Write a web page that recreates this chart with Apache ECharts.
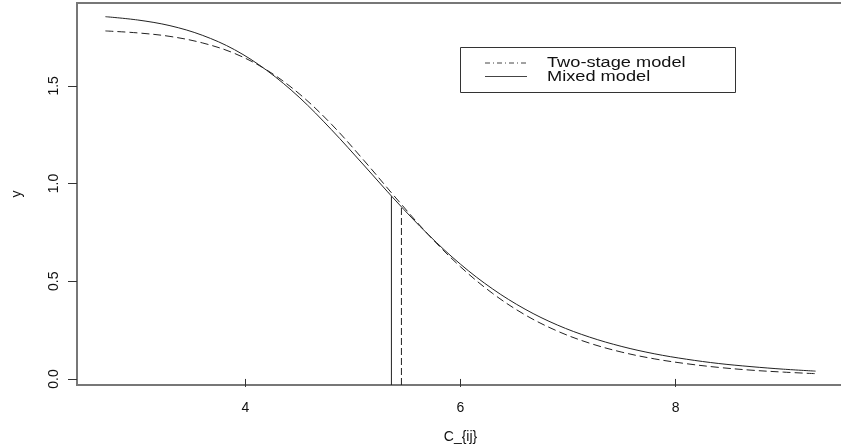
<!DOCTYPE html>
<html>
<head>
<meta charset="utf-8">
<script src="https://cdn.jsdelivr.net/npm/echarts@6/dist/echarts.min.js"></script>
<style>
html,body{margin:0;padding:0;background:#fff;}
#chart{width:841px;height:444px;}
</style>
</head>
<body>
<div id="chart"></div>
<script>
// ---- data ----
const concentration = [2.7, 3.0, 3.3, 3.6, 3.9, 4.2, 4.5, 4.8, 5.1, 5.4, 5.7, 6.0, 6.3, 6.6, 6.9, 7.2, 7.5, 7.8, 8.1, 8.4, 8.7, 9.0, 9.3];
const twoStageModel = [1.781, 1.771, 1.753, 1.720, 1.666, 1.581, 1.460, 1.304, 1.120, 0.926, 0.739, 0.574, 0.437, 0.328, 0.245, 0.183, 0.137, 0.103, 0.078, 0.059, 0.045, 0.035, 0.027];
const mixedModel    = [1.854, 1.837, 1.808, 1.759, 1.685, 1.579, 1.442, 1.276, 1.095, 0.911, 0.739, 0.587, 0.460, 0.357, 0.276, 0.214, 0.166, 0.129, 0.101, 0.079, 0.063, 0.050, 0.040];
const mixedCut = [5.358, 0.935];     // vertical solid line (x, top y)
const twoStageCut = [5.451, 0.88];   // vertical dashed line (x, top y)
const xTicks = [4, 6, 8];
const yTicks = [0, 0.5, 1, 1.5];
const xRange = [2.436, 9.564];
const yRange = [-0.031, 1.924];
const legendNames = ['Two-stage model', 'Mixed model'];
const xTitle = 'C_{ij}';
const yTitle = 'y';

const chart = echarts.init(document.getElementById('chart'), null, {renderer: 'canvas'});
const FONT = '"Liberation Sans", Arial, sans-serif';
const lineCol = '#222';

const option = {
  animation: false,
  backgroundColor: '#fff',
  grid: {left: 77, top: 3, width: 767, height: 382, outerBoundsMode: 'none', containLabel: false,
    show: true, borderColor: '#777', borderWidth: 2, backgroundColor: 'transparent'},
  xAxis: {
    type: 'value', min: xRange[0], max: xRange[1],
    axisLine: {show: false},
    splitLine: {show: false},
    axisTick: {show: true, length: 8, customValues: xTicks, lineStyle: {color: '#333', width: 1}},
    axisLabel: {customValues: xTicks, margin: 16, fontSize: 14, color: '#111', fontFamily: FONT, formatter: v => String(v)},
    name: xTitle, nameLocation: 'middle', nameGap: 45,
    nameTextStyle: {fontSize: 14, color: '#111', fontFamily: FONT}
  },
  yAxis: {
    type: 'value', min: yRange[0], max: yRange[1],
    axisLine: {show: false},
    splitLine: {show: false},
    axisTick: {show: true, length: 9, customValues: yTicks, lineStyle: {color: '#333', width: 1}},
    axisLabel: {customValues: yTicks, rotate: 90, margin: 16, fontSize: 14, color: '#111', fontFamily: FONT,
      formatter: v => v.toFixed(1)},
    name: yTitle, nameLocation: 'middle', nameGap: 53,
    nameTextStyle: {fontSize: 14, color: '#111', fontFamily: FONT}
  },
  series: [
    {
      name: legendNames[0], type: 'line', smooth: 0.35, showSymbol: false, symbol: 'none',
      data: concentration.map((x, i) => [x, twoStageModel[i]]),
      lineStyle: {color: lineCol, width: 1, type: [8, 4]}
    },
    {
      name: legendNames[1], type: 'line', smooth: 0.35, showSymbol: false, symbol: 'none',
      data: concentration.map((x, i) => [x, mixedModel[i]]),
      lineStyle: {color: lineCol, width: 1}
    },
    {
      name: 'mixedCut', type: 'line', symbol: 'none',
      data: [[mixedCut[0], yRange[0]], [mixedCut[0], mixedCut[1]]],
      lineStyle: {color: lineCol, width: 1}
    },
    {
      name: 'twoStageCut', type: 'line', symbol: 'none',
      data: [[twoStageCut[0], yRange[0]], [twoStageCut[0], twoStageCut[1]]],
      lineStyle: {color: lineCol, width: 1, type: [7, 3]}
    }
  ],
  graphic: [
    {type: 'rect', shape: {x: 460.5, y: 47.5, width: 275, height: 45}, style: {fill: '#fff', stroke: '#333', lineWidth: 1}, z: 10},
    {type: 'line', shape: {x1: 485, y1: 63, x2: 527, y2: 63}, style: {stroke: '#444', lineWidth: 1, lineDash: [5, 3, 1, 3]}, z: 11},
    {type: 'line', shape: {x1: 485, y1: 76.5, x2: 527, y2: 76.5}, style: {stroke: '#444', lineWidth: 1}, z: 11},
    {type: 'text', x: 547, y: 63, scaleX: 1.3, style: {text: legendNames[0], fontSize: 14, fontFamily: FONT, fill: '#111', verticalAlign: 'middle', align: 'left'}, z: 11},
    {type: 'text', x: 547, y: 77.5, scaleX: 1.3, style: {text: legendNames[1], fontSize: 14, fontFamily: FONT, fill: '#111', verticalAlign: 'middle', align: 'left'}, z: 11}
  ]
};
chart.setOption(option);
</script>
</body>
</html>
